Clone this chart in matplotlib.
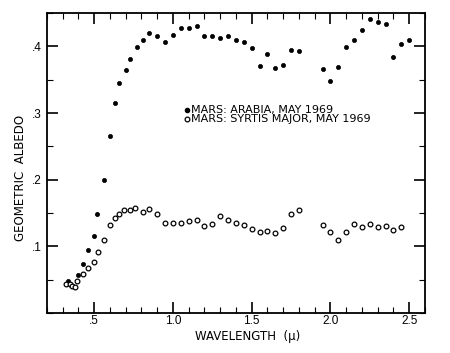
import matplotlib
matplotlib.use("Agg")
import matplotlib.pyplot as plt
from matplotlib.ticker import MultipleLocator, FixedLocator

plt.rcParams['font.family'] = ['Liberation Sans', 'DejaVu Sans']

arabia_wl = [0.335, 0.395, 0.43, 0.46, 0.50, 0.52, 0.56, 0.60, 0.63, 0.66, 0.70, 0.73, 0.77,
             0.81, 0.85, 0.90, 0.95, 1.00, 1.05, 1.10, 1.15, 1.20, 1.25, 1.30, 1.35, 1.40,
             1.45, 1.50, 1.55, 1.60, 1.65, 1.70, 1.75, 1.80, 1.95, 2.00, 2.05, 2.10, 2.15,
             2.20, 2.25, 2.30, 2.35, 2.40, 2.45, 2.50]
arabia_alb = [0.048, 0.057, 0.074, 0.094, 0.116, 0.149, 0.200, 0.266, 0.315, 0.345, 0.365,
              0.381, 0.399, 0.409, 0.420, 0.416, 0.406, 0.417, 0.427, 0.428, 0.431, 0.416,
              0.416, 0.412, 0.416, 0.410, 0.406, 0.398, 0.371, 0.389, 0.367, 0.372, 0.395,
              0.393, 0.366, 0.348, 0.369, 0.399, 0.410, 0.425, 0.441, 0.436, 0.434, 0.384,
              0.404, 0.410]

syrtis_wl = [0.32, 0.345, 0.36, 0.38, 0.39, 0.43, 0.46, 0.50, 0.525, 0.56, 0.60, 0.63, 0.66,
             0.69, 0.73, 0.76, 0.81, 0.85, 0.90, 0.95, 1.00, 1.05, 1.10, 1.15, 1.20, 1.25,
             1.30, 1.35, 1.40, 1.45, 1.50, 1.55, 1.60, 1.65, 1.70, 1.75, 1.80, 1.95, 2.00,
             2.05, 2.10, 2.15, 2.20, 2.25, 2.30, 2.35, 2.40, 2.45]
syrtis_alb = [0.044, 0.043, 0.040, 0.039, 0.048, 0.059, 0.067, 0.077, 0.092, 0.109, 0.132,
              0.143, 0.149, 0.155, 0.155, 0.157, 0.151, 0.156, 0.148, 0.135, 0.135, 0.135,
              0.138, 0.139, 0.131, 0.134, 0.146, 0.139, 0.135, 0.132, 0.126, 0.121, 0.123,
              0.120, 0.127, 0.148, 0.155, 0.132, 0.122, 0.110, 0.122, 0.134, 0.129, 0.134,
              0.129, 0.131, 0.124, 0.129]

xticks = [0.5, 1.0, 1.5, 2.0, 2.5]
xticklabels = [".5", "1.0", "1.5", "2.0", "2.5"]
yticks = [0.1, 0.2, 0.3, 0.4]
yticklabels = [".1", ".2", ".3", ".4"]
legend_labels = ["MARS: ARABIA, MAY 1969", "MARS: SYRTIS MAJOR, MAY 1969"]

fig = plt.figure(figsize=(4.5, 3.53), dpi=100)
ax = fig.add_axes([0.1044, 0.1133, 0.8400, 0.8497])

ax.plot(arabia_wl, arabia_alb, linestyle='none', marker='o', markersize=3.0,
        markerfacecolor='black', markeredgecolor='black', markeredgewidth=0.5)
ax.plot(syrtis_wl, syrtis_alb, linestyle='none', marker='o', markersize=3.4,
        markerfacecolor='white', markeredgecolor='black', markeredgewidth=0.9)

ax.set_xlim(0.2, 2.6)
ax.set_ylim(0.0, 0.45)

ax.xaxis.set_major_locator(FixedLocator(xticks))
ax.set_xticklabels(xticklabels)
ax.xaxis.set_minor_locator(MultipleLocator(0.1))
ax.yaxis.set_major_locator(FixedLocator(yticks))
ax.set_yticklabels(yticklabels)
ax.yaxis.set_minor_locator(MultipleLocator(0.05))

ax.tick_params(which='both', direction='in', top=True, right=True, labelsize=8.5)
ax.tick_params(which='major', length=8, width=1.2)
ax.tick_params(which='minor', length=4, width=0.8)
ax.tick_params(axis='x', which='major', pad=1.5)
for s in ax.spines.values():
    s.set_linewidth(1.3)

ax.set_xlabel("WAVELENGTH  (\u03bc)", fontsize=8.5, family=['DejaVu Sans'])
ax.set_ylabel("GEOMETRIC  ALBEDO", fontsize=8.5, family=['DejaVu Sans'])
ax.xaxis.set_label_coords(0.53, -0.058)
ax.yaxis.set_label_coords(-0.053, 0.45)

# legend
ax.plot([1.09], [0.305], linestyle='none', marker='o', markersize=3.0,
        markerfacecolor='black', markeredgecolor='black')
ax.plot([1.09], [0.2905], linestyle='none', marker='o', markersize=3.4,
        markerfacecolor='white', markeredgecolor='black', markeredgewidth=0.9)
ax.text(1.115, 0.305, legend_labels[0], fontsize=8, va='center', ha='left',
        family=['DejaVu Sans'])
ax.text(1.115, 0.2905, legend_labels[1], fontsize=8, va='center', ha='left',
        family=['DejaVu Sans'])

fig.savefig("out.png", dpi=100)
